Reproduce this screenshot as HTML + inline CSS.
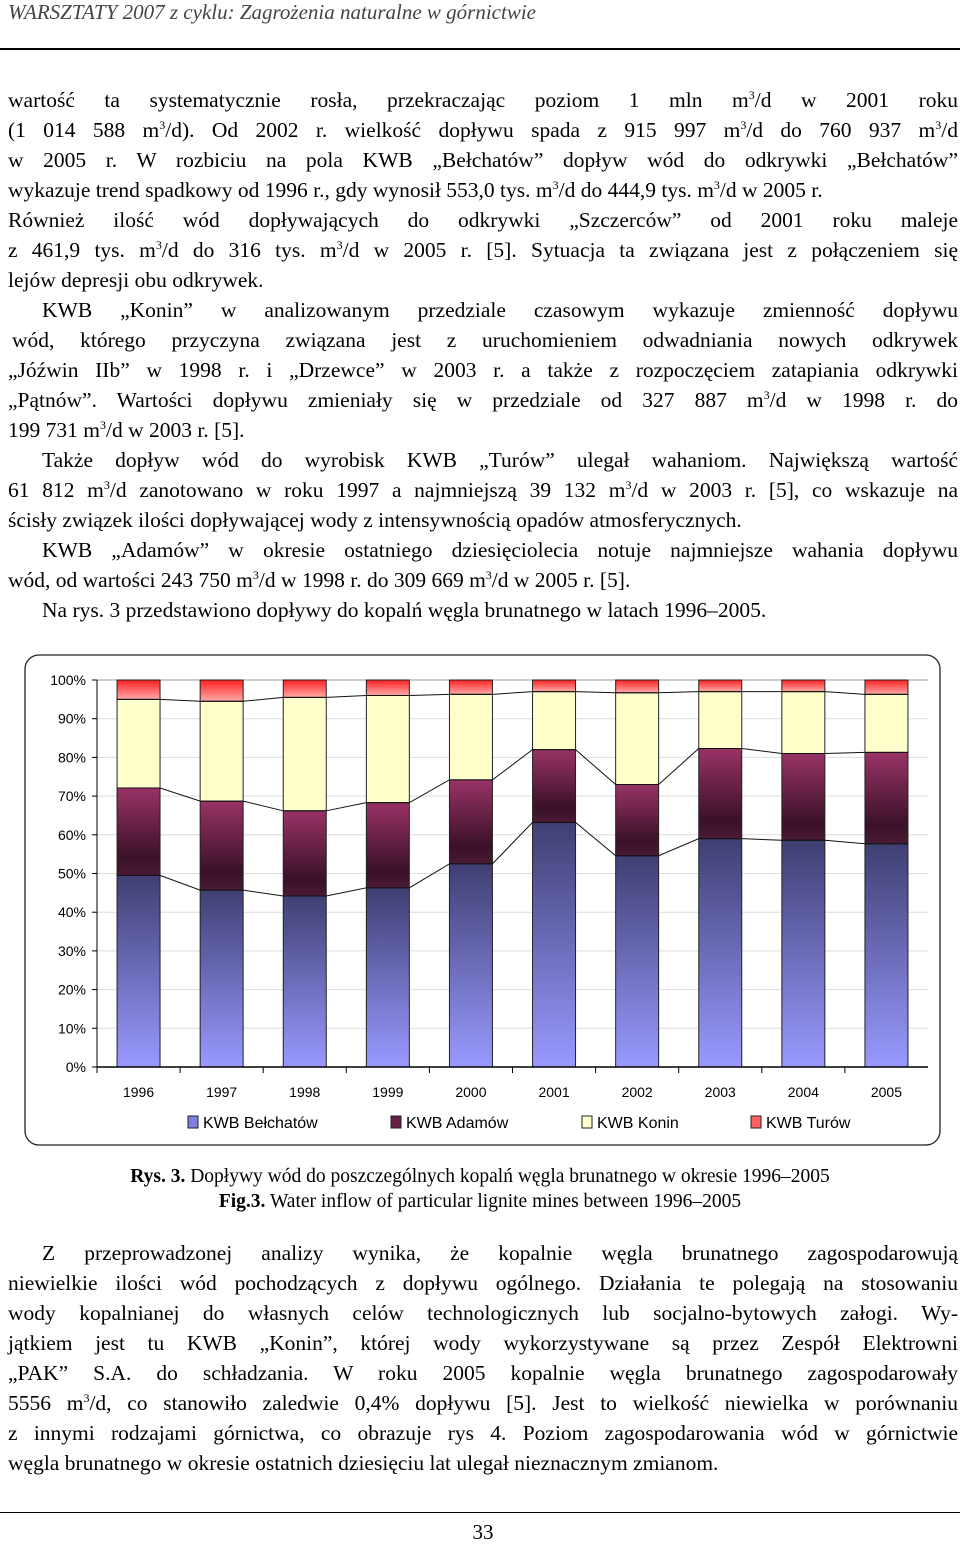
<!DOCTYPE html>
<html><head><meta charset="utf-8"><style>
body{margin:0;width:960px;height:1547px;background:#fff;position:relative;font-family:"Liberation Serif",serif;color:#000;overflow:hidden}
.hdr{position:absolute;left:8px;top:0;font-style:italic;font-size:21px;color:#444}
.rule{position:absolute;left:0;width:960px;height:2px;background:#000}
.l{position:absolute;left:8px;width:950px;box-sizing:border-box;font-size:21.5px;line-height:30px;text-align:justify;text-align-last:justify;white-space:nowrap}
.l.e{text-align-last:left}
.l.i{padding-left:34px}
sup{font-size:12px;line-height:0}
.cap{position:absolute;left:0;width:960px;text-align:center;font-size:19.5px}
</style></head><body>
<div class="hdr">WARSZTATY 2007 z cyklu: Zagrożenia naturalne w górnictwie</div>
<div class="rule" style="top:48px"></div>
<div>
<div class="l" style="top:85px">wartość ta systematycznie rosła, przekraczając poziom 1 mln m<sup>3</sup>/d w 2001 roku</div>
<div class="l" style="top:115px">(1 014 588 m<sup>3</sup>/d). Od 2002 r. wielkość dopływu spada z 915 997 m<sup>3</sup>/d do 760 937 m<sup>3</sup>/d</div>
<div class="l" style="top:145px">w 2005 r. W rozbiciu na pola KWB „Bełchatów” dopływ wód do odkrywki „Bełchatów”</div>
<div class="l e" style="top:175px">wykazuje trend spadkowy od 1996 r., gdy wynosił 553,0 tys. m<sup>3</sup>/d do 444,9 tys. m<sup>3</sup>/d w 2005 r.</div>
<div class="l" style="top:205px">Również ilość wód dopływających do odkrywki „Szczerców” od 2001 roku maleje</div>
<div class="l" style="top:235px">z 461,9 tys. m<sup>3</sup>/d do 316 tys. m<sup>3</sup>/d w 2005 r. [5]. Sytuacja ta związana jest z połączeniem się</div>
<div class="l e" style="top:265px">lejów depresji obu odkrywek.</div>
<div class="l i" style="top:295px">KWB „Konin” w analizowanym przedziale czasowym wykazuje zmienność dopływu</div>
<div class="l" style="top:325px;padding-left:4px">wód, którego przyczyna związana jest z uruchomieniem odwadniania nowych odkrywek</div>
<div class="l" style="top:355px">„Jóźwin IIb” w 1998 r. i „Drzewce” w 2003 r. a także z rozpoczęciem zatapiania odkrywki</div>
<div class="l" style="top:385px">„Pątnów”. Wartości dopływu zmieniały się w przedziale od 327 887 m<sup>3</sup>/d w 1998 r. do</div>
<div class="l e" style="top:415px">199 731 m<sup>3</sup>/d w 2003 r. [5].</div>
<div class="l i" style="top:445px">Także dopływ wód do wyrobisk KWB „Turów” ulegał wahaniom. Największą wartość</div>
<div class="l" style="top:475px">61 812 m<sup>3</sup>/d zanotowano w roku 1997 a najmniejszą 39 132 m<sup>3</sup>/d w 2003 r. [5], co wskazuje na</div>
<div class="l e" style="top:505px">ścisły związek ilości dopływającej wody z intensywnością opadów atmosferycznych.</div>
<div class="l i" style="top:535px">KWB „Adamów” w okresie ostatniego dziesięciolecia notuje najmniejsze wahania dopływu</div>
<div class="l e" style="top:565px">wód, od wartości 243 750 m<sup>3</sup>/d w 1998 r. do 309 669 m<sup>3</sup>/d w 2005 r. [5].</div>
<div class="l e i" style="top:595px">Na rys. 3 przedstawiono dopływy do kopalń węgla brunatnego w latach 1996–2005.</div>
</div>

<svg id="chart" style="position:absolute;left:0;top:640px" width="960" height="520">
<defs>
<linearGradient id="gB" x1="0" y1="0" x2="0" y2="1"><stop offset="0" stop-color="#3f3f73"/><stop offset="1" stop-color="#9999ff"/></linearGradient>
<linearGradient id="gA" x1="0" y1="0" x2="0" y2="1"><stop offset="0" stop-color="#993366"/><stop offset="0.8" stop-color="#3a1128"/><stop offset="1" stop-color="#4a1a33"/></linearGradient>
<linearGradient id="gT" x1="0" y1="0" x2="0" y2="1"><stop offset="0" stop-color="#ff2020"/><stop offset="1" stop-color="#ffaaaa"/></linearGradient>
</defs>
<rect x="25" y="15" width="915" height="490" rx="14" fill="none" stroke="#222" stroke-width="1.3"/>
<g id="plot"></g>
</svg>
<script>
const years=["1996","1997","1998","1999","2000","2001","2002","2003","2004","2005"];
const belchatow=[49.5,45.7,44.2,46.3,52.5,63.2,54.6,59.0,58.6,57.7];
const adamow=[22.6,23.0,22.0,22.0,21.7,18.8,18.4,23.3,22.4,23.6];
const konin=[22.9,25.8,29.3,27.7,22.1,15.0,23.7,14.7,16.0,15.0];
const turow=[5.0,5.5,4.5,4.0,3.7,3.0,3.3,3.0,3.0,3.7];
const yTicks=[0,10,20,30,40,50,60,70,80,90,100];
const series=[{v:belchatow,f:"url(#gB)",n:"belchatow"},{v:adamow,f:"url(#gA)",n:"adamow"},{v:konin,f:"#ffffcc",n:"konin"},{v:turow,f:"url(#gT)",n:"turow"}];
const legendNames=["KWB Bełchatów","KWB Adamów","KWB Konin","KWB Turów"];
const legendCols=["#8080e0","#6a1f45","#ffffcc","#ff6060"];
const X0=97,X1=928,Y0=427,Y1=40,BW=43;
const step=(X1-X0)/years.length;
const xC=i=>X0+step*(i+0.5);
const y=v=>Y0-(v/100)*(Y0-Y1);
const NS="http://www.w3.org/2000/svg";
const g=document.getElementById('plot');
function mk(t,a){const e=document.createElementNS(NS,t);for(const k in a)e.setAttribute(k,a[k]);g.appendChild(e);return e;}
yTicks.forEach(t=>{
 const gl=mk('line',{x1:X0,x2:X1,y1:y(t),y2:y(t),stroke:t==100?'#999':'#ddd','stroke-width':1});
 
 
 const tk=mk('line',{x1:X0-5,x2:X0,y1:y(t),y2:y(t),stroke:'#000'});
 
 
 const tx=mk('text',{x:X0-11,y:y(t)+5,'text-anchor':'end','font-size':14,'font-family':'Liberation Sans, sans-serif'});
 tx.textContent=t+'%';
 
 
});
const cum=years.map(()=>0);
const tops=[];
series.forEach(s=>{
 const row=[];
 years.forEach((yr,i)=>{
  const b=cum[i],t=b+s.v[i];cum[i]=t;row.push(t);
  const r=mk('rect',{x:xC(i)-BW/2,y:y(t),width:BW,height:y(b)-y(t),fill:s.f,stroke:'#222','stroke-width':1});
  
  
 });
 tops.push(row);
});
tops.slice(0,3).forEach((row,k)=>{
 let d='';
 row.forEach((t,i)=>{d+=(i?'L':'M')+(xC(i)-BW/2)+' '+y(t)+'L'+(xC(i)+BW/2)+' '+y(t);});
 const p=mk('path',{d:d,fill:'none',stroke:'#111','stroke-width':1});
 
 
});
const ax=mk('line',{x1:X0,x2:X1,y1:Y0,y2:Y0,stroke:'#000','stroke-width':1.5});


const ay=mk('line',{x1:X0,x2:X0,y1:Y0,y2:Y1,stroke:'#000','stroke-width':1});


years.forEach((yr,i)=>{
 const tk=mk('line',{x1:X0+step*i,x2:X0+step*i,y1:Y0,y2:Y0+6,stroke:'#000'});
 
 
 const tx=mk('text',{x:xC(i),y:Y0+30,'text-anchor':'middle','font-size':14,'font-family':'Liberation Sans, sans-serif'});
 tx.textContent=yr;
 
 
});
const lx=[188,391,582,751];
legendNames.forEach((n,i)=>{
 const r=mk('rect',{x:lx[i],y:476,width:10,height:12,fill:legendCols[i],stroke:'#222'});
 
 
 const t=mk('text',{x:lx[i]+15,y:488,'font-size':16,'font-family':'Liberation Sans, sans-serif'});
 t.textContent=n;
 
 
});
</script>

<div class="cap" style="top:1166px"><b>Rys. 3.</b> Dopływy wód do poszczególnych kopalń węgla brunatnego w okresie 1996–2005</div>
<div class="cap" style="top:1191px"><b>Fig.3.</b> Water inflow of particular lignite mines between 1996–2005</div>

<div>
<div class="l i" style="top:1238px">Z przeprowadzonej analizy wynika, że kopalnie węgla brunatnego zagospodarowują</div>
<div class="l" style="top:1268px">niewielkie ilości wód pochodzących z dopływu ogólnego. Działania te polegają na stosowaniu</div>
<div class="l" style="top:1298px">wody kopalnianej do własnych celów technologicznych lub socjalno-bytowych załogi. Wy-</div>
<div class="l" style="top:1328px">jątkiem jest tu KWB „Konin”, której wody wykorzystywane są przez Zespół Elektrowni</div>
<div class="l" style="top:1358px">„PAK” S.A. do schładzania. W roku 2005 kopalnie węgla brunatnego zagospodarowały</div>
<div class="l" style="top:1388px">5556 m<sup>3</sup>/d, co stanowiło zaledwie 0,4% dopływu [5]. Jest to wielkość niewielka w porównaniu</div>
<div class="l" style="top:1418px">z innymi rodzajami górnictwa, co obrazuje rys 4. Poziom zagospodarowania wód w górnictwie</div>
<div class="l e" style="top:1448px">węgla brunatnego w okresie ostatnich dziesięciu lat ulegał nieznacznym zmianom.</div>
</div>
<div class="rule" style="top:1512px;height:1px"></div>
<div class="cap" style="top:1520px;left:3px;font-size:21px">33</div>
</body></html>
